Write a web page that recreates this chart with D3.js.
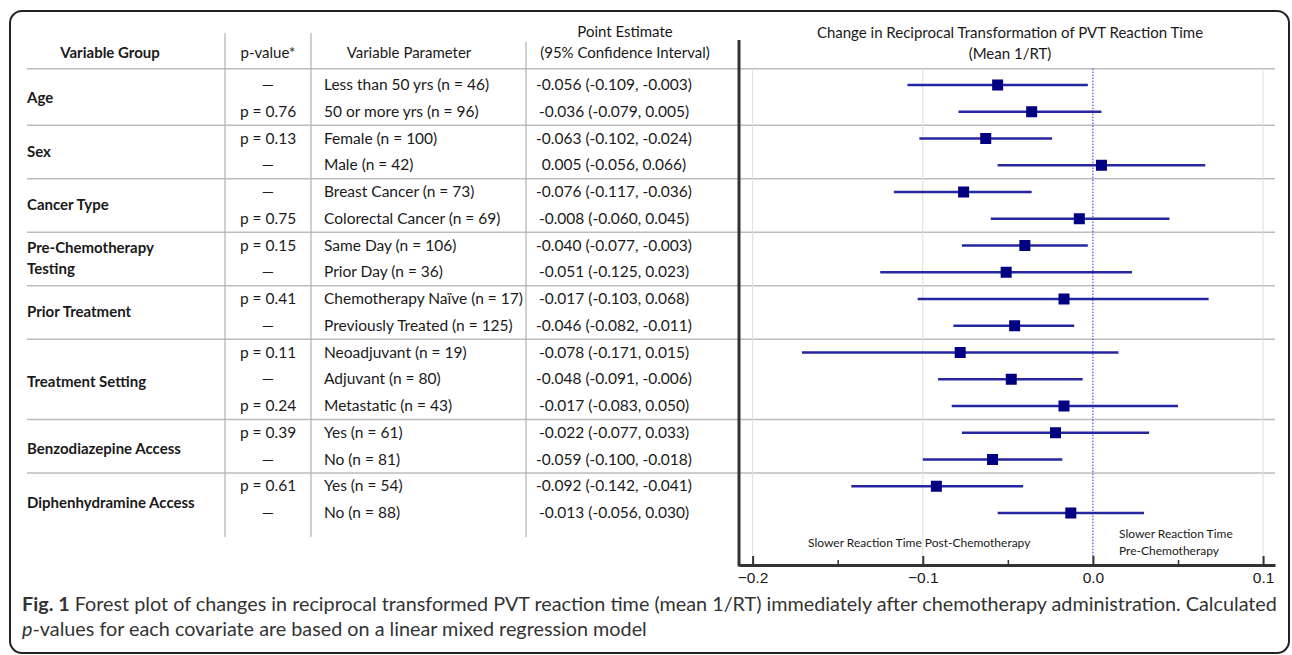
<!DOCTYPE html>
<html>
<head>
<meta charset="utf-8">
<script src="https://cdn.jsdelivr.net/npm/d3@7"></script>
<style>
  body { margin: 0; background: #fff; }
  svg text { font-family: Lato, "Open Sans", sans-serif; fill: #1a1a1a; }
</style>
</head>
<body>
<div id="chart"></div>
<script>
// groups and how many rows each spans
const groupNames = [["Age"], ["Sex"], ["Cancer Type"], ["Pre-Chemotherapy", "Testing"],
  ["Prior Treatment"], ["Treatment Setting"], ["Benzodiazepine Access"], ["Diphenhydramine Access"]];
const groupSizes = [2, 2, 2, 2, 2, 3, 2, 2];

const params = ["Less than 50 yrs (n = 46)", "50 or more yrs (n = 96)", "Female (n = 100)", "Male (n = 42)",
  "Breast Cancer (n = 73)", "Colorectal Cancer (n = 69)", "Same Day (n = 106)", "Prior Day (n = 36)",
  "Chemotherapy Naïve (n = 17)", "Previously Treated (n = 125)", "Neoadjuvant (n = 19)", "Adjuvant (n = 80)",
  "Metastatic (n = 43)", "Yes (n = 61)", "No (n = 81)", "Yes (n = 54)", "No (n = 88)"];
const pValues = ["—", "p = 0.76", "p = 0.13", "—", "—", "p = 0.75", "p = 0.15", "—", "p = 0.41", "—",
  "p = 0.11", "—", "p = 0.24", "p = 0.39", "—", "p = 0.61", "—"];
const estimates = [-0.056, -0.036, -0.063, 0.005, -0.076, -0.008, -0.040, -0.051, -0.017, -0.046,
  -0.078, -0.048, -0.017, -0.022, -0.059, -0.092, -0.013];
const lower = [-0.109, -0.079, -0.102, -0.056, -0.117, -0.060, -0.077, -0.125, -0.103, -0.082,
  -0.171, -0.091, -0.083, -0.077, -0.100, -0.142, -0.056];
const upper = [-0.003, 0.005, -0.024, 0.066, -0.036, 0.045, -0.003, 0.023, 0.068, -0.011,
  0.015, -0.006, 0.050, 0.033, -0.018, -0.041, 0.030];
const xTicks = [-0.2, -0.1, 0.0, 0.1];
const xMinorTicks = [-0.15, -0.05, 0.05];
const gridTicks = [-0.2, -0.1, 0.1];

const width = 1292, height = 655;
const svg = d3.select("#chart").append("svg").attr("width", width).attr("height", height);

const rows = d3.range(params.length);
const y = d3.scalePoint().domain(rows).range([85, 513]);
const step = y.step();
const x = d3.scaleLinear().domain([-0.208, 0.107]).range([739, 1275]);
const axisY = 565;

// outer frame
svg.append("rect").attr("x", 10).attr("y", 11).attr("width", 1279).attr("height", 642)
  .attr("rx", 12).attr("fill", "none").attr("stroke", "#222").attr("stroke-width", 2);

// group boundaries
let starts = [];
let acc = 0;
groupSizes.forEach(s => { starts.push(acc); acc += s; });

// horizontal separators
const sepY = [y(0) - step / 2 - 3].concat(starts.slice(1).map(s => y(s) - step / 2));
svg.append("g").selectAll("line").data(sepY).join("line")
  .attr("x1", 27).attr("x2", 1275).attr("y1", d => d).attr("y2", d => d)
  .attr("stroke", "#bdbdbd").attr("stroke-width", 1.5);

// vertical table lines
[[225, 33], [311, 33], [526, 42]].forEach(([vx, top]) => {
  svg.append("line").attr("x1", vx).attr("x2", vx).attr("y1", top).attr("y2", 537)
    .attr("stroke", "#b0b0b0").attr("stroke-width", 1.2);
});

// headers
const hdr = svg.append("g").attr("font-size", 15);
hdr.append("text").attr("x", 110).attr("y", 58).attr("text-anchor", "middle").attr("font-weight", "bold").text("Variable Group");
hdr.append("text").attr("x", 268).attr("y", 58).attr("text-anchor", "middle").text("p-value*");
hdr.append("text").attr("x", 409).attr("y", 58).attr("text-anchor", "middle").text("Variable Parameter");
hdr.append("text").attr("x", 625).attr("y", 37).attr("text-anchor", "middle").text("Point Estimate");
hdr.append("text").attr("x", 625).attr("y", 58).attr("text-anchor", "middle").text("(95% Confidence Interval)");
hdr.append("text").attr("x", 1010).attr("y", 38).attr("text-anchor", "middle").text("Change in Reciprocal Transformation of PVT Reaction Time");
hdr.append("text").attr("x", 1010).attr("y", 59).attr("text-anchor", "middle").text("(Mean 1/RT)");

// group labels
const gl = svg.append("g").attr("font-size", 15).attr("font-weight", "bold");
groupNames.forEach((lines, i) => {
  const mid = (y(starts[i]) + y(starts[i] + groupSizes[i] - 1)) / 2;
  const shift = i >= 5 ? 3 : 0;
  lines.forEach((t, j) => {
    gl.append("text").attr("x", 27)
      .attr("y", mid + 5 + shift + (j - (lines.length - 1) / 2) * 21)
      .text(t);
  });
});

// table cells
const cells = svg.append("g").attr("font-size", 15.5);
cells.selectAll(".pv").data(rows).join("text").attr("class", "pv")
  .attr("x", 268).attr("y", d => y(d) + 5).attr("text-anchor", "middle").text(d => pValues[d]);
cells.selectAll(".pp").data(rows).join("text").attr("class", "pp")
  .attr("x", 324).attr("y", d => y(d) + 5).text(d => params[d]);
cells.selectAll(".pe").data(rows).join("text").attr("class", "pe")
  .attr("x", 614).attr("y", d => y(d) + 5).attr("text-anchor", "middle")
  .text(d => `${estimates[d].toFixed(3)} (${lower[d].toFixed(3)}, ${upper[d].toFixed(3)})`);

// plot gridlines
svg.append("g").selectAll("line").data(gridTicks).join("line")
  .attr("x1", d => x(d)).attr("x2", d => x(d)).attr("y1", sepY[0]).attr("y2", axisY)
  .attr("stroke", "#dedede").attr("stroke-width", 1);
svg.append("line").attr("x1", x(0)).attr("x2", x(0)).attr("y1", sepY[0]).attr("y2", axisY)
  .attr("stroke", "#2b2bd0").attr("stroke-width", 1).attr("stroke-dasharray", "1.5,1.5");

// confidence intervals and estimates
svg.append("g").selectAll("line").data(rows).join("line")
  .attr("x1", d => x(lower[d])).attr("x2", d => x(upper[d]))
  .attr("y1", d => y(d)).attr("y2", d => y(d))
  .attr("stroke", "#2626a0").attr("stroke-width", 2.5);
svg.append("g").selectAll("rect").data(rows).join("rect")
  .attr("x", d => x(estimates[d]) - 5.5).attr("y", d => y(d) - 5.5)
  .attr("width", 11).attr("height", 11).attr("fill", "#000080");

// left axis line of plot
svg.append("line").attr("x1", 739).attr("x2", 739).attr("y1", 40).attr("y2", axisY + 1.5)
  .attr("stroke", "#333").attr("stroke-width", 3);

// x axis
const gx = svg.append("g").attr("transform", `translate(0,${axisY})`)
  .call(d3.axisBottom(x).tickValues(xTicks).tickFormat(d3.format(".1f")).tickSizeInner(-9).tickSizeOuter(0).tickPadding(7));
gx.select(".domain").attr("stroke", "#333").attr("stroke-width", 3);
gx.selectAll(".tick line").attr("stroke", "#333").attr("stroke-width", 2);
gx.selectAll(".tick text").attr("font-size", 15.5).attr("fill", "#1a1a1a")
  .style("font-family", "'Liberation Sans', Arial, sans-serif");
const gm = svg.append("g").attr("transform", `translate(0,${axisY})`)
  .call(d3.axisBottom(x).tickValues(xMinorTicks).tickSizeInner(-5).tickSizeOuter(0).tickFormat(""));
gm.select(".domain").remove();
gm.selectAll(".tick line").attr("stroke", "#333").attr("stroke-width", 1.5);

// direction annotations
const ann = svg.append("g").attr("font-size", 12);
ann.append("text").attr("x", 808).attr("y", 547).text("Slower Reaction Time Post-Chemotherapy");
ann.append("text").attr("x", 1119).attr("y", 538).text("Slower Reaction Time");
ann.append("text").attr("x", 1119).attr("y", 555).text("Pre-Chemotherapy");

// caption
const cap = svg.append("g").attr("font-size", 19.8).style("font-family", "'Open Sans', Lato, sans-serif");
const c1 = cap.append("text").attr("x", 22).attr("y", 611).attr("fill", "#333");
c1.append("tspan").attr("font-weight", "bold").attr("fill", "#333").text("Fig. 1");
c1.append("tspan").attr("fill", "#333").text(" Forest plot of changes in reciprocal transformed PVT reaction time (mean 1/RT) immediately after chemotherapy administration. Calculated");
const c2 = cap.append("text").attr("x", 22).attr("y", 636).attr("fill", "#333");
c2.append("tspan").attr("font-style", "italic").attr("fill", "#333").text("p");
c2.append("tspan").attr("fill", "#333").text("-values for each covariate are based on a linear mixed regression model");
</script>
</body>
</html>
